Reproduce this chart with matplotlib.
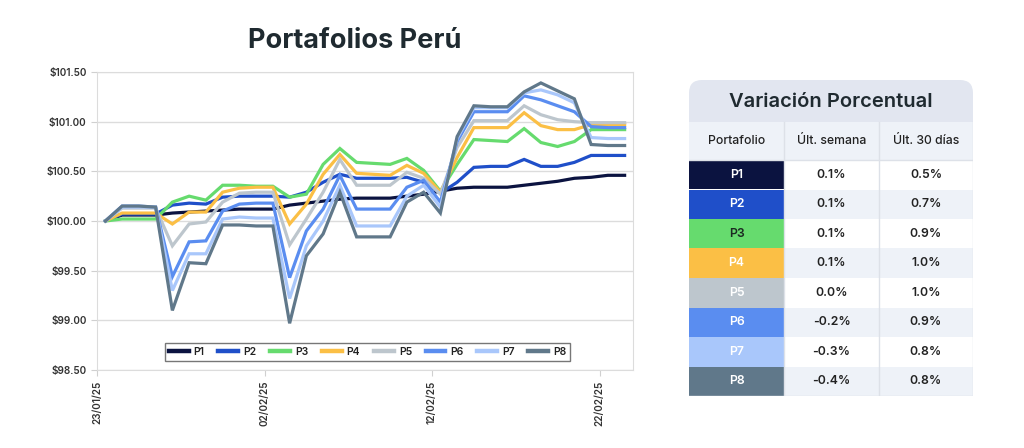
import numpy as np
import pandas as pd
import matplotlib
matplotlib.use("Agg")
import matplotlib.pyplot as plt
import matplotlib.dates as mdates
from matplotlib.patches import Rectangle, FancyBboxPatch

plt.rcParams['font.family'] = ['Inter', 'DejaVu Sans']

# Daily values, 23/01/25 .. 23/02/25 (weekends repeat Friday)
dates = pd.date_range("2025-01-23", "2025-02-23", freq="D")

p1 = [100.00, 100.06, 100.06, 100.06, 100.08, 100.09, 100.10, 100.11, 100.12, 100.12, 100.12,
      100.16, 100.18, 100.20, 100.22, 100.23, 100.23, 100.23, 100.25, 100.27, 100.30, 100.33,
      100.34, 100.34, 100.34, 100.36, 100.38, 100.40, 100.43, 100.44, 100.46, 100.46]
p2 = [100.00, 100.07, 100.07, 100.07, 100.16, 100.18, 100.17, 100.24, 100.25, 100.25, 100.25,
      100.24, 100.29, 100.39, 100.47, 100.43, 100.43, 100.43, 100.44, 100.39, 100.28, 100.39,
      100.54, 100.55, 100.55, 100.62, 100.55, 100.55, 100.59, 100.66, 100.66, 100.66]
p3 = [100.00, 100.02, 100.02, 100.02, 100.19, 100.25, 100.21, 100.36, 100.36, 100.35, 100.35,
      100.24, 100.27, 100.57, 100.73, 100.59, 100.58, 100.57, 100.63, 100.51, 100.30, 100.57,
      100.82, 100.81, 100.80, 100.93, 100.79, 100.75, 100.80, 100.92, 100.92, 100.92]
p4 = [100.00, 100.08, 100.08, 100.08, 99.97, 100.09, 100.09, 100.29, 100.33, 100.34, 100.34,
      99.97, 100.17, 100.47, 100.67, 100.48, 100.47, 100.46, 100.56, 100.48, 100.29, 100.64,
      100.94, 100.94, 100.94, 101.09, 100.96, 100.92, 100.92, 100.97, 100.97, 100.97]
p5 = [100.00, 100.13, 100.13, 100.13, 99.75, 99.97, 99.99, 100.19, 100.28, 100.29, 100.29,
      99.76, 100.02, 100.29, 100.62, 100.36, 100.36, 100.36, 100.49, 100.43, 100.27, 100.74,
      101.01, 101.01, 101.01, 101.16, 101.07, 101.02, 101.00, 100.99, 100.99, 100.99]
p6 = [100.00, 100.15, 100.15, 100.14, 99.44, 99.79, 99.80, 100.10, 100.17, 100.18, 100.18,
      99.43, 99.90, 100.12, 100.46, 100.12, 100.12, 100.12, 100.34, 100.41, 100.19, 100.80,
      101.10, 101.10, 101.10, 101.26, 101.22, 101.16, 101.10, 100.95, 100.94, 100.94]
p7 = [100.00, 100.14, 100.14, 100.14, 99.30, 99.67, 99.67, 100.02, 100.04, 100.03, 100.03,
      99.22, 99.75, 100.00, 100.36, 99.95, 99.95, 99.95, 100.25, 100.36, 100.14, 100.83,
      101.14, 101.14, 101.14, 101.29, 101.32, 101.27, 101.19, 100.84, 100.83, 100.83]
p8 = [100.00, 100.15, 100.15, 100.14, 99.10, 99.58, 99.57, 99.96, 99.96, 99.95, 99.95,
      98.97, 99.65, 99.87, 100.29, 99.84, 99.84, 99.84, 100.19, 100.29, 100.08, 100.85,
      101.16, 101.15, 101.15, 101.30, 101.39, 101.31, 101.23, 100.77, 100.76, 100.76]

names = ["P1", "P2", "P3", "P4", "P5", "P6", "P7", "P8"]
series = [p1, p2, p3, p4, p5, p6, p7, p8]
colors = ["#0b1340", "#1f4fc9", "#66db6e", "#fbbf45", "#bdc6cd", "#5a8df0", "#a9c7fb", "#60788a"]

weekly = ["0.1%", "0.1%", "0.1%", "0.1%", "0.0%", "-0.2%", "-0.3%", "-0.4%"]
monthly = ["0.5%", "0.7%", "0.9%", "1.0%", "1.0%", "0.9%", "0.8%", "0.8%"]
label_colors = ["white", "white", "#1c2a22", "white", "white", "white", "white", "white"]

fig = plt.figure(figsize=(10.24, 4.48), dpi=100)

# --- line chart ---
ax = fig.add_axes([97 / 1024, 78 / 448, 536 / 1024, 298 / 448])
x = dates + pd.Timedelta(hours=12)
for name, vals, c in zip(names, series, colors):
    ax.plot(x, vals, color=c, lw=2.3, label=name, solid_joinstyle="miter")

ax.set_xlim(dates[0], dates[-1] + pd.Timedelta(days=1))
ax.set_ylim(98.5, 101.5)
ax.set_yticks(np.arange(98.5, 101.51, 0.5))
ax.yaxis.set_major_formatter(plt.FuncFormatter(lambda v, p: f"${v:.2f}"))
ax.set_xticks(pd.date_range("2025-01-23", periods=4, freq="10D"))
ax.xaxis.set_major_formatter(mdates.DateFormatter("%d/%m/%y"))
plt.setp(ax.get_xticklabels(), rotation=90)
ax.tick_params(axis="both", labelsize=7.2, colors="#d0d0d0", labelcolor="#333333", length=4)
for lab in ax.get_xticklabels() + ax.get_yticklabels():
    lab.set_fontweight("semibold")
ax.grid(axis="y", color="#dcdcdc", lw=1)
for s in ax.spines.values():
    s.set_color("#dcdcdc")

leg = ax.legend(loc="center", bbox_to_anchor=(0.505, 0.06), ncol=8, frameon=True,
                fancybox=False, fontsize=7.5, handlelength=1.9, handletextpad=0.5,
                columnspacing=1.3, borderpad=0.35)
leg.get_frame().set_edgecolor("#555555")
leg.get_frame().set_linewidth(1.0)
for t in leg.get_texts():
    t.set_fontweight("semibold")
    t.set_color("#222222")
for h in leg.get_lines():
    h.set_linewidth(3.2)

fig.text(355 / 1024, 1 - 41 / 448, "Portafolios Perú", ha="center", va="center",
         fontsize=19.5, fontweight="bold", color="#1f2a30")

# --- table ---
W, H = 284, 316
tax = fig.add_axes([689 / 1024, (448 - 396) / 448, W / 1024, H / 448])
tax.set_xlim(0, W)
tax.set_ylim(H, 0)
tax.axis("off")

head_bg = "#e2e6f0"
light = "#eef2f8"
line_c = "#dde1e8"
cols = [0, 95, 190, W]
title_h, hdr_h = 42, 38
row_h = (H - title_h - hdr_h) / 8

tax.add_patch(FancyBboxPatch((0, 0), W, title_h, boxstyle="round,pad=0,rounding_size=13",
                             fc=head_bg, ec="none"))
tax.add_patch(Rectangle((0, 18), W, title_h - 18, fc=head_bg, ec="none"))
tax.text(W / 2, title_h / 2 + 1, "Variación Porcentual", ha="center", va="center",
         fontsize=14.5, fontweight="semibold", color="#1f2a30")

tax.add_patch(Rectangle((0, title_h), W, hdr_h, fc=light, ec="none"))
for i, h in enumerate(["Portafolio", "Últ. semana", "Últ. 30 días"]):
    tax.text((cols[i] + cols[i + 1]) / 2, title_h + hdr_h / 2, h, ha="center", va="center",
             fontsize=8.8, fontweight="medium", color="#222222")

for r in range(8):
    y0 = title_h + hdr_h + r * row_h
    bg = "white" if r % 2 == 0 else light
    tax.add_patch(Rectangle((cols[1], y0), W - cols[1], row_h, fc=bg, ec="none"))
    tax.add_patch(Rectangle((0, y0), cols[1], row_h, fc=colors[r], ec="none"))
    yc = y0 + row_h / 2
    tax.text(cols[1] / 2, yc, names[r], ha="center", va="center", fontsize=8.8,
             fontweight="semibold", color=label_colors[r])
    tax.text((cols[1] + cols[2]) / 2, yc, weekly[r], ha="center", va="center", fontsize=8.8,
             fontweight="semibold", color="#222222")
    tax.text((cols[2] + cols[3]) / 2, yc, monthly[r], ha="center", va="center", fontsize=8.8,
             fontweight="semibold", color="#222222")

for cx in cols[1:3]:
    tax.plot([cx, cx], [title_h, H], color=line_c, lw=1)
tax.plot([0, W], [title_h + hdr_h, title_h + hdr_h], color=line_c, lw=1)
tax.plot([W, W, 0], [title_h, H, H], color=line_c, lw=1)

fig.savefig("out.png", dpi=100)
